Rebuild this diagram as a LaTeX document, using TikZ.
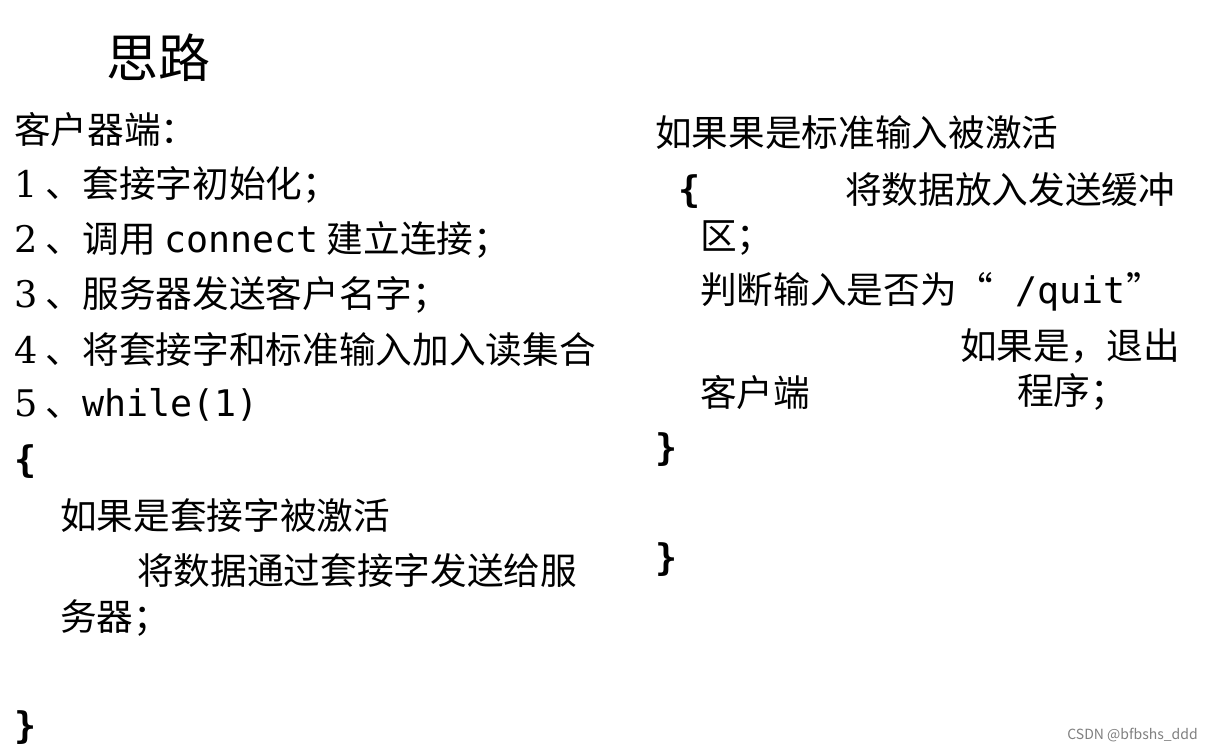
\documentclass[tikz,border=0pt]{standalone}
\usepackage{fontspec}
\setmainfont{Noto Sans CJK SC}
\newfontfamily\mono{DejaVu Sans Mono}
\newfontfamily\digit{DejaVu Serif}
\begin{document}
\begin{tikzpicture}[x=0.75pt,y=-0.75pt]
\tikzset{t/.style={anchor=west,inner sep=0pt,font=\fontsize{27.5pt}{30pt}\selectfont}}
\useasboundingbox[fill=white] (0,0) rectangle (1213,751);
\node[t,font=\fontsize{39pt}{42pt}\selectfont] (title) at (106,58) {思路};
\node[t] (l0) at (14,130) {客户器端：};
\node[t] (l1) at (14,185) {{\digit 1} 、套接字初始化；};
\node[t] (l2) at (14,240) {{\digit 2} 、调用 {\mono connect} 建立连接；};
\node[t] (l3) at (14,295) {{\digit 3} 、服务器发送客户名字；};
\node[t] (l4) at (14,350) {{\digit 4} 、将套接字和标准输入加入读集合};
\node[t] (l5) at (14,405) {{\digit 5} 、{\mono while(1)}};
\node[t] (l6) at (14,462) {{\mono\bfseries\{}};
\node[t] (l7) at (60,515) {如果是套接字被激活};
\node[t] (l8) at (137,570) {将数据通过套接字发送给服};
\node[t] (l9) at (60,618) {务器；};
\node[t] (l10) at (14,728) {{\mono\bfseries\}}};
\node[t] (r0) at (655,133) {如果果是标准输入被激活};
\node[t] (r1a) at (678,192) {{\mono\bfseries\{}};
\node[t] (r1) at (845,190) {将数据放入发送缓冲};
\node[t] (r2) at (700,238) {区；};
\node[t] (r3) at (700,292) {判断输入是否为“{\mono\ /quit}”};
\node[t] (r4) at (960,346) {如果是，退出};
\node[t] (r5) at (700,392) {客户端};
\node[t] (r6) at (1017,392) {程序；};
\node[t] (r7) at (655,450) {{\mono\bfseries\}}};
\node[t] (r8) at (655,560) {{\mono\bfseries\}}};
\node[anchor=east,inner sep=0pt,text=gray,font=\fontsize{10.5pt}{12pt}\selectfont] (wm) at (1198,735) {CSDN @bfbshs\_ddd};
\end{tikzpicture}
\end{document}
